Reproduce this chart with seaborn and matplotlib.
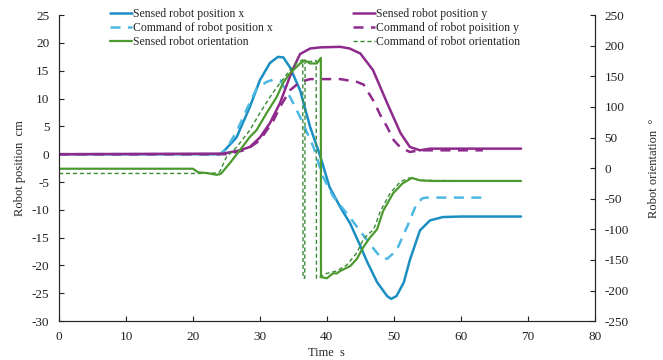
import numpy as np
import pandas as pd
import matplotlib
matplotlib.use("Agg")
import matplotlib.pyplot as plt
import seaborn as sns

## data
# sensed robot position x  (cm)
t_pos_x = [0, 24, 24.5, 26.5, 28.5, 30, 31.5, 32.7, 33.5, 34.5, 36, 37.5, 39, 40.4, 42, 43.5, 45, 46,
           47.5, 49, 49.6, 50.4, 51.5, 52.4, 53.9, 55.4, 57.3, 60, 69]
pos_x = [0, 0, 0.4, 3, 8.5, 13.3, 16.4, 17.5, 17.4, 15.6, 11.5, 4.9, -0.3, -5.9, -9.5, -12.5, -16.5, -19.3,
         -23, -25.5, -26, -25.5, -23, -19, -13.7, -11.9, -11.3, -11.2, -11.2]
# command of robot position x  (cm)
t_cmd_x = [0, 24, 25, 26.5, 28, 29.5, 31, 32, 33, 34.5, 36, 38, 39.4, 40.9, 43.4, 45.4, 47, 48, 49,
           50.4, 52, 53.4, 54.3, 55, 63.3]
cmd_x = [0, 0, 1, 4, 8, 11.8, 13, 13.4, 13.3, 10.3, 6.7, 1.3, -4, -7.5, -11.3, -14.5, -17, -18.5, -18.8,
         -17.3, -13, -8.9, -7.9, -7.8, -7.8]
# sensed robot position y  (cm)
t_pos_y = [0, 24.5, 27, 28.5, 30, 31.5, 33, 34.5, 35.2, 36, 37.5, 39, 42, 43.4, 45, 46.9, 49, 51, 52.4,
           53.9, 55.4, 69]
pos_y = [0, 0.1, 0.7, 1.3, 3, 5.6, 9.2, 14, 16, 18, 19, 19.2, 19.3, 19, 18.1, 15.1, 9.2, 3.8, 1.3,
         0.7, 1.0, 1.0]
# command of robot position y  (cm)
t_cmd_y = [0, 25, 28, 30, 32, 33, 34.5, 36, 37.5, 42, 44.5, 45.5, 46, 47, 48, 49, 50, 51, 52.4, 53.9, 63.3]
cmd_y = [0, 0, 0.8, 2.5, 6, 8.5, 11.5, 13, 13.5, 13.5, 13, 12.5, 11.5, 9.5, 7, 4.9, 2.5, 1.2, 0.4, 0.7, 0.7]
# sensed robot orientation  (deg)
t_ori = [0, 20, 20.8, 22, 23.6, 24.2, 25.5, 27, 28.5, 29.5, 31, 32.5, 33.5, 34.5, 36, 36.7, 37.5, 38.5,
         39.1, 39.12, 40, 40.9, 41.5, 42, 43.5, 44.5, 45.4, 46.4, 47.5, 48.4, 49.9, 51.3, 52.7, 53.9,
         55.8, 69]
ori = [-1, -1, -7, -8, -11, -9, 8, 29, 51, 62, 90, 116, 140, 155, 171, 176, 171, 171,
       180, -178, -180, -172, -172, -168, -160, -148, -130, -114, -100, -70, -41, -25, -16, -20,
       -21, -21]
# command of robot orientation  (deg)
t_cmd_ori = [0, 21, 23.5, 24, 25, 26.5, 28.5, 30, 31.5, 33, 34.5, 35.5, 36.4, 36.45, 36.7, 36.75, 37.5,
             38.4, 38.45, 39, 40, 41.5, 43, 44.5, 45.5, 47, 48, 49.5, 51, 52.3, 54, 63.3]
cmd_ori = [-8.7, -8.7, -8, -6, 18, 34, 62, 90, 116, 139, 160, 172, 177, -180, -180, 176, 174,
           176, -180, -178, -172, -168, -158, -138, -115, -100, -70, -40, -22, -16, -20, -21]

labels = ["Sensed robot position x", "Command of robot position x", "Sensed robot orientation",
          "Sensed robot position y", "Command of robot poisition y", "Command of robot orientation"]

sns.set_style("ticks")
plt.rcParams['font.family'] = ['Liberation Serif', 'DejaVu Serif']
plt.rcParams['xtick.direction'] = 'in'
plt.rcParams['ytick.direction'] = 'in'
plt.rcParams['axes.unicode_minus'] = False

c_blue, c_lblue = "#1b8ec2", "#4db8e4"
c_purp, c_green, c_dgreen = "#8e2a8c", "#4c9a2f", "#3b8a3a"

fig = plt.figure(figsize=(6.63, 3.6), dpi=100)
ax = fig.add_axes([0.089, 0.108, 0.808, 0.85])
ax2 = ax.twinx()

def draw(t, v, axis, **kw):
    df = pd.DataFrame({"t": t, "v": v})
    sns.lineplot(data=df, x="t", y="v", ax=axis, estimator=None, sort=False, legend=False, **kw)
    return axis.get_lines()[-1]

h1 = draw(t_pos_x, pos_x, ax, color=c_blue, linewidth=1.8)
h2 = draw(t_cmd_x, cmd_x, ax, color=c_lblue, linewidth=1.8, linestyle=(0, (4, 3)))
h4 = draw(t_pos_y, pos_y, ax, color=c_purp, linewidth=1.8)
h5 = draw(t_cmd_y, cmd_y, ax, color=c_purp, linewidth=1.8, linestyle=(0, (4, 3)))
h6 = draw(t_cmd_ori, cmd_ori, ax2, color=c_dgreen, linewidth=1.0, linestyle=(0, (3, 2)))
h3 = draw(t_ori, ori, ax2, color=c_green, linewidth=1.6)

ax.set_xlim(0, 80)
ax.set_ylim(-30, 25)
ax.set_xticks(np.arange(0, 81, 10))
ax.set_yticks(np.arange(-30, 26, 5))
ax2.set_ylim(-250, 250)
ax2.set_yticks(np.arange(-250, 251, 50))
for a in (ax, ax2):
    a.spines['top'].set_visible(False)
    a.tick_params(labelsize=9.5, length=3.5, width=0.8, colors="#222222", pad=7)
    for s in a.spines.values():
        s.set_linewidth(0.8)
ax.set_xlabel("Time  s", fontsize=9, labelpad=3)
ax.set_ylabel("Robot position  cm", fontsize=9, labelpad=4)
ax2.set_ylabel("Robot orientation  °", fontsize=9, labelpad=14)

fig.legend([h1, h2, h3, h4, h5, h6], labels, loc="upper left", bbox_to_anchor=(108 / 663, 0.985),
           ncol=2, frameon=False, fontsize=8.5, handlelength=1.8, handletextpad=0.15,
           labelspacing=0.2, columnspacing=6.8, borderaxespad=0, borderpad=0.2)

fig.savefig("out.png", dpi=100)
